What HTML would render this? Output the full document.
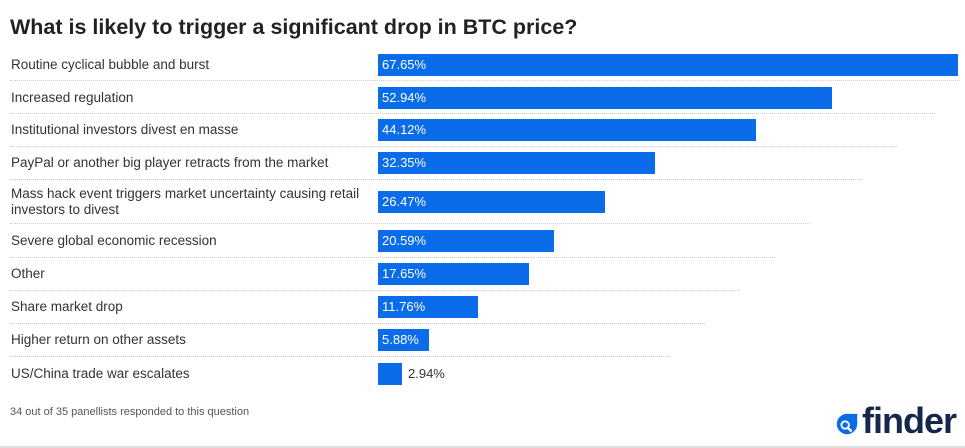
<!DOCTYPE html>
<html><head><meta charset="utf-8"><style>
body{margin:0;width:965px;height:448px;background:#fff;font-family:"Liberation Sans",sans-serif;position:relative;overflow:hidden;color:#333}
.t{position:absolute;left:10px;top:15px;font-size:21.5px;font-weight:bold;color:#222}
.l{position:absolute;left:11px;font-size:13.5px;color:#333;line-height:16px}
.b{position:absolute;left:378px;height:22px;background:#0a6ce8;color:#fff;font-size:13px;line-height:22px;padding-left:4px;box-sizing:border-box}
.s{position:absolute;left:10px;border-top:1px dotted #ccc;height:0}
.f{position:absolute;left:10px;top:406px;font-size:11px;color:#555}
</style></head><body>
<div class="t">What is likely to trigger a significant drop in BTC price?</div>

<div class="l" style="top:57px">Routine cyclical bubble and burst</div>
<div class="b" style="top:54px;width:580px">67.65%</div>
<div class="s" style="top:80px;width:950px"></div>

<div class="l" style="top:90px">Increased regulation</div>
<div class="b" style="top:87px;width:454px">52.94%</div>
<div class="s" style="top:113px;width:925px"></div>

<div class="l" style="top:122px">Institutional investors divest en masse</div>
<div class="b" style="top:119px;width:378px">44.12%</div>
<div class="s" style="top:146px;width:887px"></div>

<div class="l" style="top:155px">PayPal or another big player retracts from the market</div>
<div class="b" style="top:152px;width:277px">32.35%</div>
<div class="s" style="top:179px;width:852px"></div>

<div class="l" style="top:186px">Mass hack event triggers market uncertainty causing retail<br>investors to divest</div>
<div class="b" style="top:191px;width:227px">26.47%</div>
<div class="s" style="top:223px;width:800px"></div>

<div class="l" style="top:233px">Severe global economic recession</div>
<div class="b" style="top:230px;width:176px">20.59%</div>
<div class="s" style="top:257px;width:765px"></div>

<div class="l" style="top:266px">Other</div>
<div class="b" style="top:263px;width:151px">17.65%</div>
<div class="s" style="top:290px;width:730px"></div>

<div class="l" style="top:299px">Share market drop</div>
<div class="b" style="top:296px;width:100px">11.76%</div>
<div class="s" style="top:323px;width:695px"></div>

<div class="l" style="top:332px">Higher return on other assets</div>
<div class="b" style="top:329px;width:51px">5.88%</div>
<div class="s" style="top:356px;width:660px"></div>

<div class="l" style="top:366px">US/China trade war escalates</div>
<div class="b" style="top:363px;width:24px"></div>
<div style="position:absolute;left:408px;top:366px;font-size:13px;color:#333">2.94%</div>

<div class="f">34 out of 35 panellists responded to this question</div>

<svg style="position:absolute;left:834px;top:412px" width="26" height="26" viewBox="0 0 28 28">
<path d="M13 2 H25 V13 A11 11 0 1 1 13 2 Z" fill="#0a6ce8"/>
<circle cx="12" cy="14" r="4" fill="none" stroke="#fff" stroke-width="2"/>
<line x1="15" y1="17" x2="19" y2="21" stroke="#fff" stroke-width="2.5"/>
</svg>
<div style="position:absolute;left:862px;top:400px;font-size:36px;font-weight:bold;color:#14284b;letter-spacing:-1px">finder</div>
<div style="position:absolute;left:0;top:446px;width:965px;height:2px;background:#ddd"></div>
</body></html>
